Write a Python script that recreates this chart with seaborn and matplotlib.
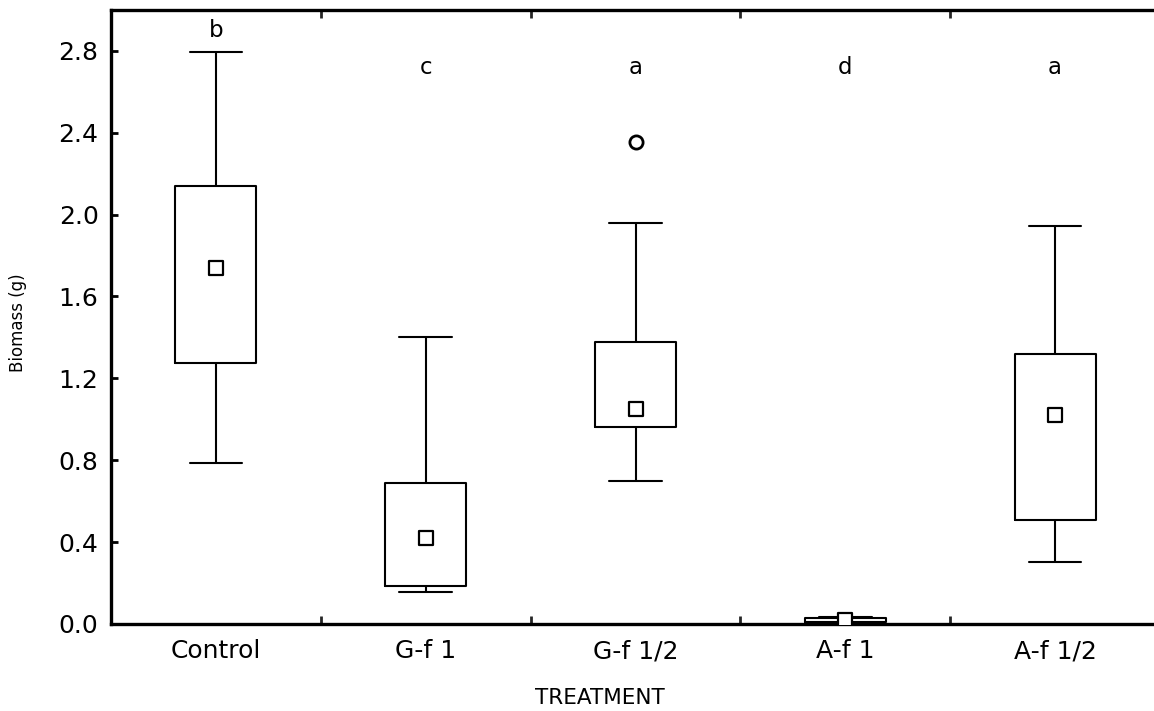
import numpy as np
import pandas as pd
import seaborn as sns
import matplotlib
matplotlib.use("Agg")
import matplotlib.pyplot as plt

# ---- data ----
treatments = ["Control", "G-f 1", "G-f 1/2", "A-f 1", "A-f 1/2"]
whisker_low = [0.786, 0.157, 0.700, 0.004, 0.303]
q1 = [1.277, 0.187, 0.960, 0.010, 0.509]
median = [1.738, 0.421, 1.050, 0.020, 1.023]
q3 = [2.139, 0.690, 1.377, 0.030, 1.320]
whisker_high = [2.795, 1.400, 1.961, 0.036, 1.943]
outlier_groups = ["G-f 1/2"]
outlier_values = [2.354]
letters = ["b", "c", "a", "d", "a"]
letter_y = [2.868, 2.685, 2.685, 2.685, 2.685]

sns.set_style("ticks")
plt.rcParams["font.family"] = ["DejaVu Sans"]
plt.rcParams["text.color"] = "black"
plt.rcParams["axes.labelcolor"] = "black"

# five-number summaries as long-form data (n=5 -> quartiles exact)
rows = []
for t, a, b, c, d, e in zip(treatments, whisker_low, q1, median, q3, whisker_high):
    for v in (a, b, c, d, e):
        rows.append({"treatment": t, "biomass": v})
df = pd.DataFrame(rows)
med_df = pd.DataFrame({"treatment": treatments, "biomass": median})
out_df = pd.DataFrame({"treatment": outlier_groups, "biomass": outlier_values})

fig = plt.figure(figsize=(11.54, 7.11), dpi=100)
ax = fig.add_axes([0.0962, 0.1224, 0.909, 0.8636])

lw = 1.5
sns.boxplot(data=df, x="treatment", y="biomass", order=treatments, ax=ax,
            width=0.386, whis=np.inf, fill=False, color="black",
            linecolor="black", linewidth=lw, showfliers=False,
            medianprops={"linewidth": 0, "alpha": 0},
            capwidths=0.25)
sns.stripplot(data=med_df, x="treatment", y="biomass", order=treatments, ax=ax,
              jitter=False, marker="s", size=9.5, color="white",
              edgecolor="black", linewidth=1.6, zorder=5)
sns.stripplot(data=out_df, x="treatment", y="biomass", order=treatments, ax=ax,
              jitter=False, marker="o", size=9.5, color="white",
              edgecolor="black", linewidth=2.0, zorder=5)

for i, (lt, ly) in enumerate(zip(letters, letter_y)):
    ax.text(i, ly, lt, ha="center", va="baseline", fontsize=16.5, color="black")

ax.set_xlim(-0.5, 4.5)
ax.set_ylim(0, 3.0)
ax.set_yticks([0.0, 0.4, 0.8, 1.2, 1.6, 2.0, 2.4, 2.8])
ax.set_yticklabels(["0.0", "0.4", "0.8", "1.2", "1.6", "2.0", "2.4", "2.8"])
ax.set_xticks(range(len(treatments)))
ax.set_xticklabels(treatments)
ax.set_xticks([0.5, 1.5, 2.5, 3.5], minor=True)

ax.tick_params(axis="y", which="major", direction="in", length=5, width=2,
               left=True, right=False, labelsize=18, pad=9, colors="black")
ax.tick_params(axis="x", which="major", length=0, labelsize=18, pad=11,
               colors="black")
ax.tick_params(axis="x", which="minor", direction="in", length=6, width=2,
               top=True, bottom=True)

for side in ["top", "left", "bottom", "right"]:
    ax.spines[side].set_visible(True)
    ax.spines[side].set_linewidth(2.4)
    ax.spines[side].set_color("black")

ax.set_xlabel("TREATMENT", fontsize=15.5, color="black")
ax.set_ylabel("Biomass (g)", fontsize=12, color="black")
ax.xaxis.set_label_coords(0.466, -0.105)
ax.yaxis.set_label_coords(-0.080, 0.49)

fig.savefig("out.png", dpi=100)
